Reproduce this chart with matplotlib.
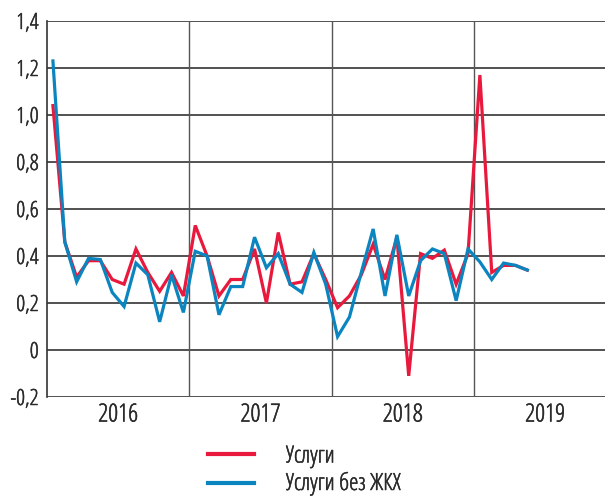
import matplotlib
matplotlib.use("Agg")
import matplotlib.pyplot as plt
from matplotlib.lines import Line2D
import matplotlib.patheffects as pe

plt.rcParams['font.family'] = ['Open Sans', 'DejaVu Sans']
plt.rcParams['font.stretch'] = 'condensed'

# Monthly data, Jan 2016 .. May 2019
uslugi = [1.04, 0.46, 0.31, 0.38, 0.38, 0.30, 0.28, 0.43, 0.33, 0.25, 0.33, 0.23,
          0.53, 0.40, 0.23, 0.30, 0.30, 0.43, 0.20, 0.50, 0.28, 0.29, 0.41, 0.30,
          0.18, 0.23, 0.32, 0.45, 0.30, 0.48, -0.11, 0.41, 0.39, 0.425, 0.28, 0.41,
          1.17, 0.33, 0.36, 0.36, 0.34]
uslugi_bez_zhkh = [1.23, 0.46, 0.29, 0.39, 0.385, 0.245, 0.185, 0.37, 0.32, 0.12, 0.32, 0.16,
                   0.42, 0.40, 0.15, 0.27, 0.27, 0.48, 0.35, 0.41, 0.28, 0.245, 0.415, 0.28,
                   0.057, 0.14, 0.33, 0.515, 0.23, 0.49, 0.23, 0.38, 0.43, 0.41, 0.21, 0.43,
                   0.375, 0.30, 0.37, 0.36, 0.34]
years = ['2016', '2017', '2018', '2019']
yticks = [-0.2, 0, 0.2, 0.4, 0.6, 0.8, 1.0, 1.2, 1.4]
ytick_labels = ['-0,2', '0', '0,2', '0,4', '0,6', '0,8', '1,0', '1,2', '1,4']
series_names = ['Услуги', 'Услуги без ЖКХ']

red = '#e8193c'
blue = '#0a85bf'
text_color = '#2a2a2a'
thicken = [pe.Stroke(linewidth=0.35, foreground=text_color), pe.Normal()]

fig = plt.figure(figsize=(6.05, 4.96), dpi=100)
ax = fig.add_axes([47/605, 1 - 397/496, 1 - 47/605, (397 - 21)/496])

x = [i + 0.5 for i in range(len(uslugi))]
l1, = ax.plot(x, uslugi, color=red, lw=2.3, solid_joinstyle='miter', zorder=3)
l2, = ax.plot(x, uslugi_bez_zhkh, color=blue, lw=2.3, solid_joinstyle='miter', zorder=4)

ax.set_xlim(0, 47.05)
ax.set_ylim(-0.2, 1.4)

ax.set_yticks(yticks)
ax.set_yticklabels(ytick_labels, fontsize=16, color=text_color)
ax.yaxis.grid(True, color='#333333', lw=1.2)
ax.set_axisbelow(True)

for b in [12, 24, 36]:
    ax.axvline(b, color='#555555', lw=1.0, zorder=1)

ax.set_xticks([6 + 12 * k for k in range(len(years))])
ax.set_xticklabels(years, fontsize=18, color=text_color)
ax.tick_params(axis='y', length=0, pad=6)
ax.tick_params(axis='x', length=0, pad=4)
for t in ax.get_xticklabels() + ax.get_yticklabels():
    t.set_path_effects(thicken)

for s in ['top', 'right', 'bottom']:
    ax.spines[s].set_visible(False)
ax.spines['left'].set_color('#333333')
ax.spines['left'].set_linewidth(1.2)

# Legend drawn in figure pixel positions
W, H = 605, 496
for line, name, yc, yb in [(l1, series_names[0], 453.5, 462.5), (l2, series_names[1], 482.5, 490.0)]:
    fig.add_artist(Line2D([208 / W, 254 / W], [1 - yc / H, 1 - yc / H],
                          color=line.get_color(), lw=3, transform=fig.transFigure))
    fig.text(286 / W, 1 - yb / H, name, fontsize=17, color=text_color,
             ha='left', va='baseline', path_effects=thicken)

fig.savefig('out.png', dpi=100)
